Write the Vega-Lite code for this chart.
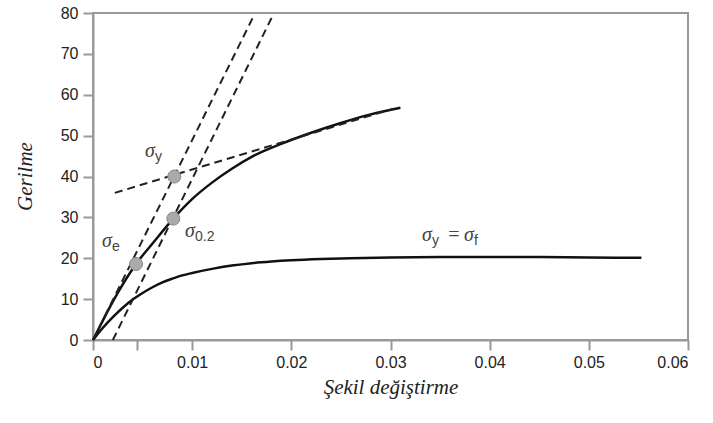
{
  "$schema": "https://vega.github.io/schema/vega-lite/v6.json",
  "autosize": {"type": "none"},
  "width": 595,
  "height": 327,
  "padding": {"left": 93, "top": 13, "right": 25, "bottom": 83},
  "background": "white",
  "config": {
    "view": {"stroke": "#999", "strokeWidth": 2},
    "axis": {
      "domainColor": "#999", "domainWidth": 2, "tickColor": "#999", "tickWidth": 2,
      "tickSize": 10, "grid": false, "labelFont": "Liberation Sans", "labelFontSize": 16,
      "labelColor": "#222", "titleFont": "Liberation Serif", "titleFontStyle": "italic",
      "titleFontWeight": "normal", "titleFontSize": 21, "titleColor": "#222"
    }
  },
  "encoding": {
    "x": {"field": "x", "type": "quantitative", "scale": {"domain": [0, 0.06], "nice": false},
      "axis": {"title": "Şekil değiştirme", "values": [0, 0.0044, 0.01, 0.02, 0.03, 0.04, 0.05, 0.06],
        "labelExpr": "datum.value > 0.003 && datum.value < 0.005 ? '' : format(datum.value, '.2~f')",
        "labelPadding": 4, "titlePadding": 6}},
    "y": {"field": "y", "type": "quantitative", "scale": {"domain": [0, 80], "nice": false},
      "axis": {"title": "Gerilme", "values": [0, 10, 20, 30, 40, 50, 60, 70, 80], "labelPadding": 5,
        "titleX": -68, "titleY": 163, "titleAngle": -90, "titleAlign": "center", "titleBaseline": "middle"}}
  },
  "layer": [
    {
      "data": {"values": [
        {"x": 0, "y": 0}, {"x": 0.001, "y": 3.0}, {"x": 0.002, "y": 5.6}, {"x": 0.003, "y": 7.9},
        {"x": 0.004, "y": 9.9}, {"x": 0.005, "y": 11.5}, {"x": 0.006, "y": 12.9}, {"x": 0.007, "y": 14.1},
        {"x": 0.008, "y": 15.0}, {"x": 0.009, "y": 15.8}, {"x": 0.01, "y": 16.4}, {"x": 0.012, "y": 17.4},
        {"x": 0.014, "y": 18.2}, {"x": 0.016, "y": 18.8}, {"x": 0.018, "y": 19.2}, {"x": 0.02, "y": 19.5},
        {"x": 0.023, "y": 19.8}, {"x": 0.026, "y": 20.0}, {"x": 0.03, "y": 20.2}, {"x": 0.035, "y": 20.3},
        {"x": 0.04, "y": 20.3}, {"x": 0.045, "y": 20.3}, {"x": 0.05, "y": 20.2}, {"x": 0.0553, "y": 20.1}
      ]},
      "mark": {"type": "line", "color": "#111", "strokeWidth": 2.5, "interpolate": "monotone"}
    },
    {
      "data": {"values": [
        {"x": 0, "y": 0}, {"x": 0.001, "y": 4.8}, {"x": 0.002, "y": 9.4}, {"x": 0.003, "y": 13.6},
        {"x": 0.00434, "y": 18.6}, {"x": 0.006, "y": 23.6}, {"x": 0.0081, "y": 29.7}, {"x": 0.0101, "y": 34.7},
        {"x": 0.012, "y": 38.5}, {"x": 0.014, "y": 41.9}, {"x": 0.016, "y": 44.8}, {"x": 0.0189, "y": 47.9},
        {"x": 0.022, "y": 50.7}, {"x": 0.025, "y": 53.1}, {"x": 0.028, "y": 55.2}, {"x": 0.031, "y": 56.8}
      ]},
      "mark": {"type": "line", "color": "#111", "strokeWidth": 2.5, "interpolate": "monotone"}
    },
    {
      "data": {"values": [
        {"x": 0, "y": 0, "s": "a"}, {"x": 0.01625, "y": 79.5, "s": "a"},
        {"x": 0.002, "y": 0, "s": "b"}, {"x": 0.01815, "y": 79.5, "s": "b"},
        {"x": 0.0022, "y": 36.0, "s": "c"}, {"x": 0.0303, "y": 56.6, "s": "c"}
      ]},
      "mark": {"type": "line", "color": "#222", "strokeWidth": 2, "strokeDash": [8, 5]},
      "encoding": {"detail": {"field": "s"}}
    },
    {
      "data": {"values": [
        {"x": 0.00434, "y": 18.6}, {"x": 0.0081, "y": 29.7}, {"x": 0.0082, "y": 40.0}
      ]},
      "mark": {"type": "point", "filled": true, "fill": "#aaa", "stroke": "#888", "strokeWidth": 1, "size": 170, "opacity": 1}
    },
    {
      "data": {"name": "labels", "values": [
        {"x": 0.00524, "y": 44.8, "t": "σ", "sub": "y"},
        {"x": 0.00928, "y": 25.2, "t": "σ", "sub": "0.2"},
        {"x": 0.00091, "y": 22.8, "t": "σ", "sub": "e"},
        {"x": 0.03318, "y": 24.2, "t": "σ", "sub": "y"},
        {"x": 0.0357, "y": 24.2, "t": "=", "sub": ""},
        {"x": 0.03741, "y": 24.2, "t": "σ", "sub": "f"}
      ]},
      "layer": [
        {"mark": {"type": "text", "align": "left", "baseline": "alphabetic", "font": "Liberation Serif", "fontStyle": "italic", "fontSize": 20, "color": "#444"},
          "encoding": {"text": {"field": "t"}}},
        {"mark": {"type": "text", "align": "left", "baseline": "alphabetic", "font": "Liberation Sans", "fontSize": 14, "color": "#444", "dx": 10, "dy": 4},
          "encoding": {"text": {"field": "sub"}}}
      ]
    }
  ]
}
